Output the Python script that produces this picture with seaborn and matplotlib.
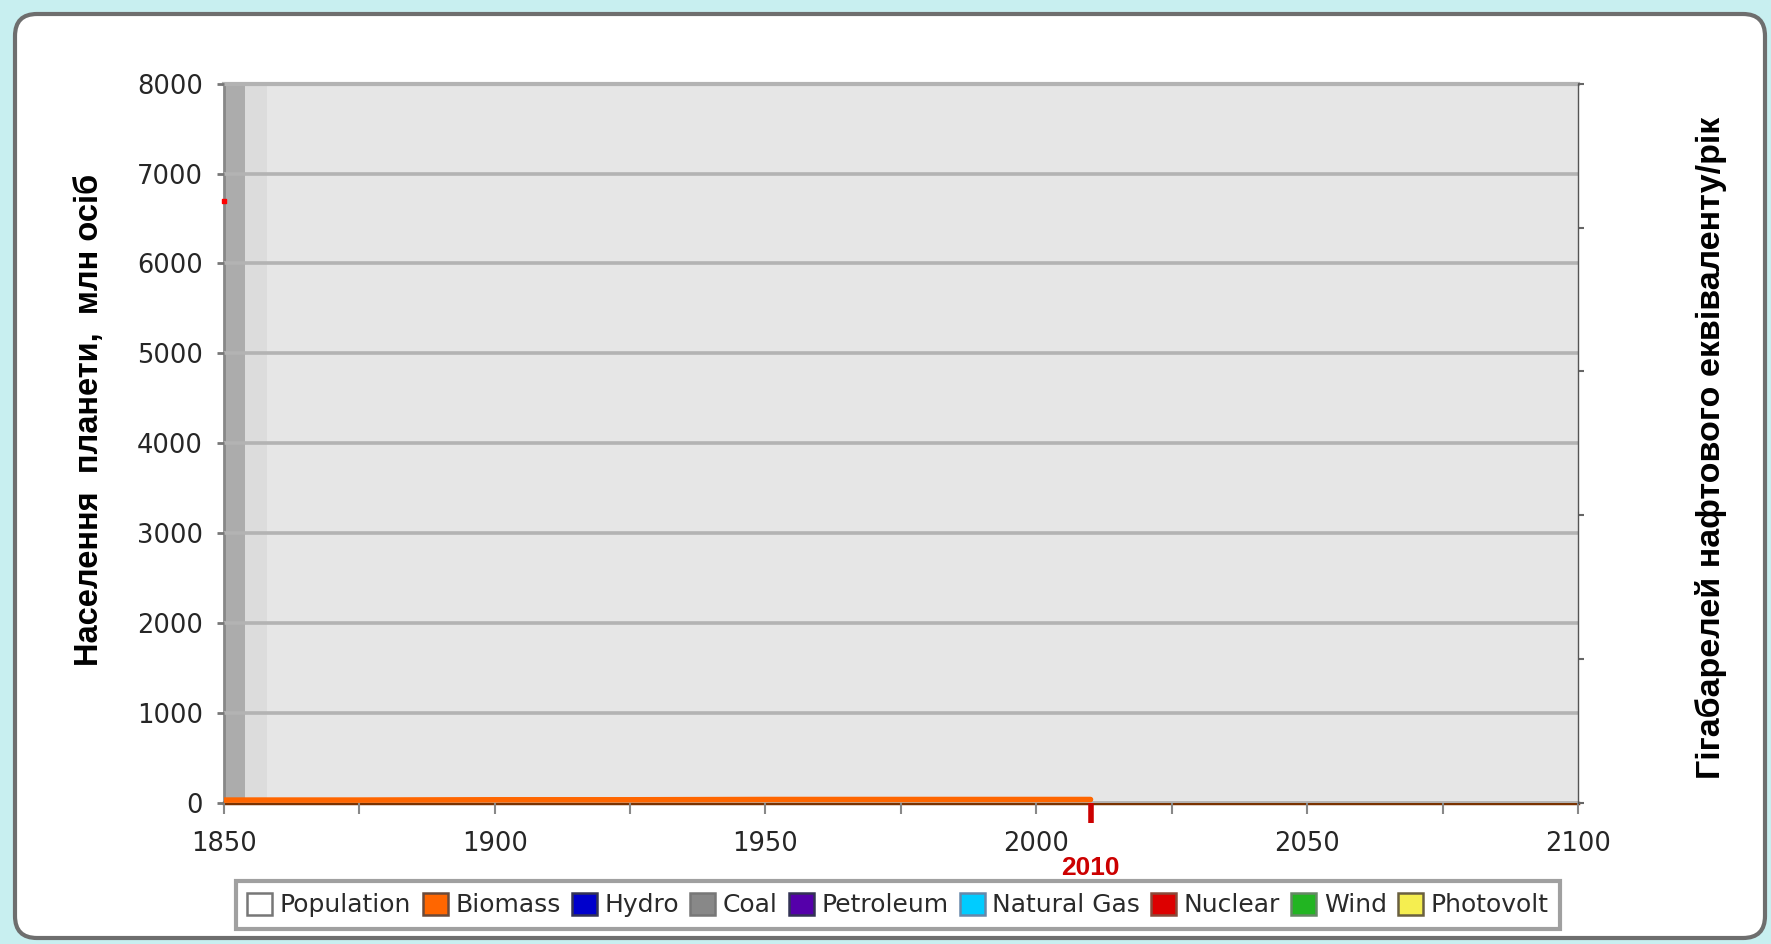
import matplotlib
matplotlib.use("Agg")
import matplotlib.pyplot as plt
import matplotlib.transforms as mtransforms
from matplotlib.patches import FancyBboxPatch, Patch
import seaborn as sns
import pandas as pd

# ---------------- data ----------------
years = [1850, 1875, 1900, 1925, 1950, 1975, 2000, 2010]
biomass = [1.0, 1.0, 1.1, 1.1, 1.2, 1.2, 1.2, 1.2]          # Gbbl oil eq / year (right axis)
pop_marker_value = 6700                                      # population, mln (left axis)
shade_start = [1850, 1854]
shade_end = [1854, 1858]
shade_colors = ["#acacac", "#dcdcdc"]

y_ticks = [0, 1000, 2000, 3000, 4000, 5000, 6000, 7000, 8000]
x_ticks = [1850, 1875, 1900, 1925, 1950, 1975, 2000, 2025, 2050, 2075, 2100]
x_labels = ["1850", "", "1900", "", "1950", "", "2000", "", "2050", "", "2100"]
right_ticks = [0, 50, 100, 150, 200, 250]
marker_year = 2010

legend_names = ["Population", "Biomass", "Hydro", "Coal", "Petroleum",
                "Natural Gas", "Nuclear", "Wind", "Photovolt"]
legend_fc = ["#ffffff", "#ff6600", "#0000cc", "#888888", "#5500aa",
             "#00ccff", "#dd0000", "#22b522", "#f5ee50"]
legend_ec = ["#777777", "#6a4a3a", "#333355", "#777777", "#333355",
             "#6688aa", "#8a4a3a", "#668866", "#6a6040"]

ylabel_left = "Населення  планети,  млн осіб"
ylabel_right = "Гігабарелей нафтового еквіваленту/рік"

# ---------------- style ----------------
sns.set_theme(style="white")
plt.rcParams["font.family"] = ["DejaVu Sans"]

fig = plt.figure(figsize=(17.71, 9.44), dpi=100)
fig.patch.set_facecolor("#c8eff0")

frame = FancyBboxPatch((15, 6), 1750, 924,
                       boxstyle="round,pad=0,rounding_size=22",
                       transform=mtransforms.IdentityTransform(),
                       fc="white", ec="#6e6e6e", lw=3, zorder=-5)
fig.patches.append(frame)

ax = fig.add_axes([0.1263, 0.1494, 0.7648, 0.762])
ax.set_facecolor("#e6e6e6")
ax.set_xlim(1850, 2100)
ax.set_ylim(0, 8000)

for s, e, c in zip(shade_start, shade_end, shade_colors):
    ax.axvspan(s, e, color=c, lw=0, zorder=0.5)

ax.set_yticks(y_ticks)
ax.set_yticklabels([str(v) for v in y_ticks])
ax.set_xticks(x_ticks)
ax.set_xticklabels(x_labels)
ax.grid(axis="y", color="#b3b3b3", lw=2.6, zorder=1)
ax.set_axisbelow(False)
ax.tick_params(axis="y", left=True, length=5, width=2, color="#777777",
               labelsize=18.5, labelcolor="#262626", pad=10)
ax.tick_params(axis="x", bottom=True, length=8, width=1.5, color="#888888",
               labelsize=18.5, labelcolor="#262626", pad=12)

ax.spines["right"].set_visible(False)
ax.spines["top"].set_color("#b3b3b3")
ax.spines["top"].set_linewidth(3)
ax.spines["left"].set_color("#888888")
ax.spines["left"].set_linewidth(2)
ax.spines["bottom"].set_color("#7a3200")
ax.spines["bottom"].set_linewidth(2.5)

# population marker (red) on left axis
ax.scatter([shade_start[0]], [pop_marker_value], marker="s", s=6,
           color="red", clip_on=False, zorder=5)

# red 2010 marker
ax.plot([marker_year, marker_year], [0, -220], color="#cc0000", lw=4,
        clip_on=False, zorder=5, solid_capstyle="butt")
trans = mtransforms.blended_transform_factory(ax.transData, ax.transAxes)
ax.text(marker_year, -0.091, str(marker_year), transform=trans, color="#cc0000",
        fontsize=19, fontweight="bold", ha="center", va="center",
        family="Liberation Sans")

# right axis (energy)
ax2 = ax.twinx()
ax2.set_ylim(0, 250)
ax2.set_yticks(right_ticks)
ax2.set_yticklabels([])
ax2.tick_params(axis="y", right=True, length=4, width=1.5, color="#666666")
for side in ["top", "left", "bottom"]:
    ax2.spines[side].set_visible(False)
ax2.spines["right"].set_color("#555555")
ax2.spines["right"].set_linewidth(1)

df = pd.DataFrame({"year": years, "biomass": biomass})
sns.lineplot(data=df, x="year", y="biomass", ax=ax2, color="#ff6600", lw=4)
ax2.set_xlabel("")
ax2.set_ylabel("")

# axis titles
fig.text(90 / 1771, 1 - 420 / 944, ylabel_left, rotation=90, ha="center",
         va="center", fontsize=23.5, fontweight="bold", family="Liberation Sans",
         color="black")
fig.text(1711 / 1771, 1 - 448 / 944, ylabel_right, rotation=90, ha="center",
         va="center", fontsize=24.5, fontweight="bold",
         family="Liberation Sans", color="black")

# legend
handles = [Patch(facecolor=fc, edgecolor=ec, linewidth=1.8)
           for fc, ec in zip(legend_fc, legend_ec)]
leg = fig.legend(handles, legend_names, ncol=9, loc="center",
                 bbox_to_anchor=(898 / 1771, 1 - 905 / 944),
                 frameon=True, fancybox=False, edgecolor="#888888",
                 handlelength=1.0, handleheight=1.0, handletextpad=0.3,
                 columnspacing=0.45, borderpad=0.45, fontsize=18)
leg.get_frame().set_linewidth(3)
for t in leg.get_texts():
    t.set_color("#2a2a2a")

fig.savefig("out.png", dpi=100, facecolor=fig.get_facecolor())
